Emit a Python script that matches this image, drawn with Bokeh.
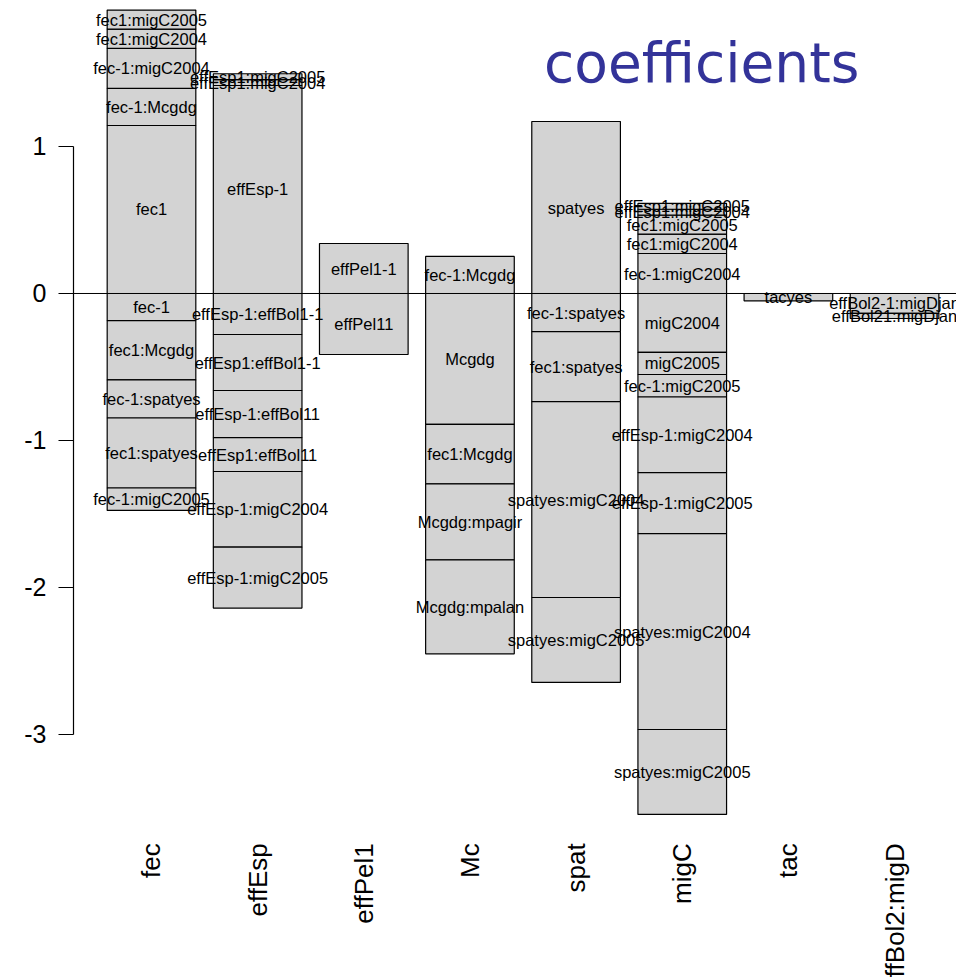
import math
from bokeh.plotting import figure
from bokeh.models import Range1d, LinearAxis, FixedTicker, Span, Label, ColumnDataSource
from bokeh.core.properties import value
from bokeh.embed import file_html
from bokeh.resources import INLINE

# ---------------- data ----------------
columns = ["fec", "effEsp", "effPel1", "Mc", "spat", "migC", "tac", "effBol2:migD"]

fec_terms = ["fec1", "fec-1:Mcgdg", "fec-1:migC2004", "fec1:migC2004", "fec1:migC2005",
             "fec-1", "fec1:Mcgdg", "fec-1:spatyes", "fec1:spatyes", "fec-1:migC2005"]
fec_values = [1.143, 0.252, 0.272, 0.132, 0.129,
              -0.184, -0.404, -0.259, -0.476, -0.153]

effEsp_terms = ["effEsp-1", "effEsp1:migC2004", "effEsp1:migC2005",
                "effEsp-1:effBol1-1", "effEsp1:effBol1-1", "effEsp-1:effBol11",
                "effEsp1:effBol11", "effEsp-1:migC2004", "effEsp-1:migC2005"]
effEsp_values = [1.415, 0.040, 0.040,
                 -0.279, -0.381, -0.320, -0.231, -0.514, -0.415]

effPel1_terms = ["effPel1-1", "effPel11"]
effPel1_values = [0.340, -0.415]

Mc_terms = ["fec-1:Mcgdg", "Mcgdg", "fec1:Mcgdg", "Mcgdg:mpagir", "Mcgdg:mpalan"]
Mc_values = [0.252, -0.891, -0.404, -0.517, -0.639]

spat_terms = ["spatyes", "fec-1:spatyes", "fec1:spatyes", "spatyes:migC2004", "spatyes:migC2005"]
spat_values = [1.170, -0.259, -0.476, -1.333, -0.578]

migC_terms = ["fec-1:migC2004", "fec1:migC2004", "fec1:migC2005", "effEsp1:migC2004", "effEsp1:migC2005",
              "migC2004", "migC2005", "fec-1:migC2005", "effEsp-1:migC2004", "effEsp-1:migC2005",
              "spatyes:migC2004", "spatyes:migC2005"]
migC_values = [0.272, 0.132, 0.129, 0.040, 0.040,
               -0.401, -0.150, -0.153, -0.514, -0.415, -1.333, -0.578]

tac_terms = ["tacyes"]
tac_values = [-0.050]

effBol2_terms = ["effBol2-1:migDjan", "effBol21:migDjan"]
effBol2_values = [-0.135, -0.035]

y_ticks = [1, 0, -1, -2, -3]
y_tick_labels = ["1", "0", "-1", "-2", "-3"]

title_text = "coefficients"

# ---------------- build stacked segments ----------------
all_terms = [fec_terms, effEsp_terms, effPel1_terms, Mc_terms, spat_terms,
             migC_terms, tac_terms, effBol2_terms]
all_values = [fec_values, effEsp_values, effPel1_values, Mc_values, spat_values,
              migC_values, tac_values, effBol2_values]

xs, bottoms, tops, names, mids = [], [], [], [], []
for i, (terms, vals) in enumerate(zip(all_terms, all_values)):
    pos, neg = 0.0, 0.0
    for t, v in zip(terms, vals):
        if v >= 0:
            b, tp = pos, pos + v
            pos = tp
        else:
            b, tp = neg + v, neg
            neg = b
        xs.append(i)
        bottoms.append(b)
        tops.append(tp)
        names.append(t)
        mids.append((b + tp) / 2)

bar_w = 0.835
seg_src = ColumnDataSource(dict(
    left=[x - bar_w / 2 for x in xs], right=[x + bar_w / 2 for x in xs],
    bottom=bottoms, top=tops, x=xs, mid=mids, name=names))

cat_src = ColumnDataSource(dict(x=list(range(len(columns))), name=columns,
                                y=[-3.74] * len(columns)))

# ---------------- figure ----------------
p = figure(width=956, height=977,
           x_range=Range1d(-0.7348, 7.5836), y_range=Range1d(-4.6531, 1.9932),
           output_backend="svg", toolbar_location=None,
           x_axis_type=None, y_axis_type=None,
           min_border_left=73, min_border_right=0, min_border_top=0, min_border_bottom=0)
p.outline_line_color = None
p.background_fill_color = "white"
p.border_fill_color = "white"

yaxis = LinearAxis(ticker=FixedTicker(ticks=y_ticks), bounds=(-3, 1),
                   major_label_overrides={t: s for t, s in zip(y_ticks, y_tick_labels)},
                   major_tick_out=15, major_tick_in=0, minor_tick_out=0, minor_tick_in=0,
                   major_label_standoff=12,
                   major_label_text_font_size="25px",
                   major_label_text_font="Liberation Sans",
                   major_label_text_color="black",
                   axis_line_color="black", major_tick_line_color="black",
                   axis_line_width=1.2, major_tick_line_width=1.2)
p.add_layout(yaxis, "left")

p.add_layout(Span(location=0, dimension="width", line_color="black", line_width=1))

p.quad(left="left", right="right", bottom="bottom", top="top", source=seg_src,
       fill_color="#d3d3d3", line_color="black", line_width=1.2)

p.text(x="x", y="mid", text="name", source=seg_src,
       text_font=value("Liberation Sans"), text_font_size="16.5px",
       text_align="center", text_baseline="middle", text_color="black")

p.text(x="x", y="y", text="name", source=cat_src, angle=math.pi / 2,
       text_font=value("Liberation Sans"), text_font_size="26px",
       text_align="right", text_baseline="middle", text_color="black")

p.add_layout(Label(x=3.698, y=1.571, text=title_text,
                   text_font="DejaVu Sans", text_font_size="55px",
                   text_color="#333399", text_align="left", text_baseline="alphabetic"))

open("out.html", "w").write(file_html(p, INLINE))
